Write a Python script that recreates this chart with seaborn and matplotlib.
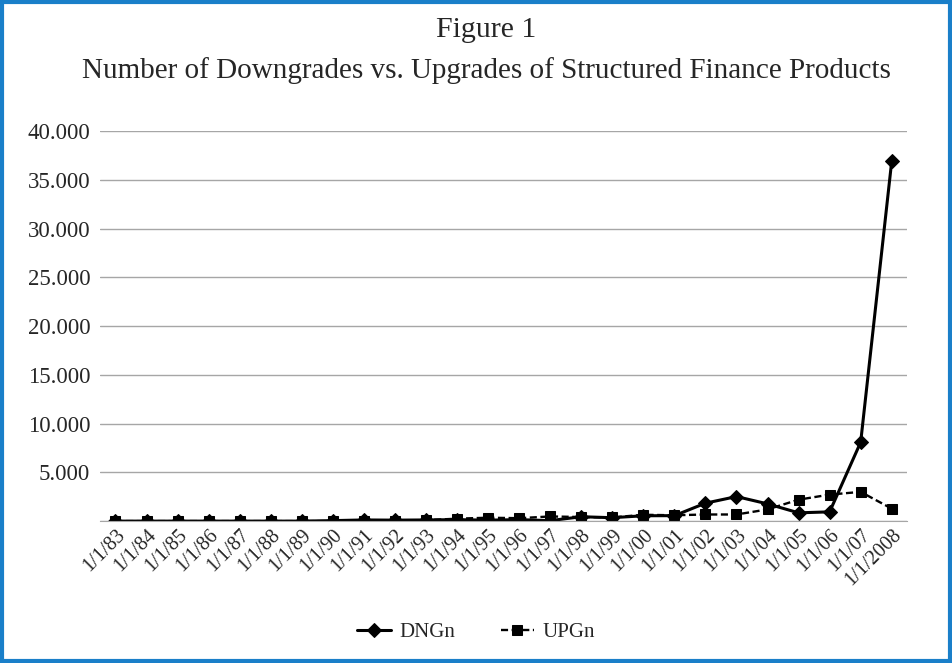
import pandas as pd
import seaborn as sns
import matplotlib.pyplot as plt
from matplotlib.patches import Rectangle
from matplotlib.ticker import FuncFormatter, MultipleLocator

# Werte
dates = ['1/1/83', '1/1/84', '1/1/85', '1/1/86', '1/1/87', '1/1/88', '1/1/89',
         '1/1/90', '1/1/91', '1/1/92', '1/1/93', '1/1/94', '1/1/95', '1/1/96',
         '1/1/97', '1/1/98', '1/1/99', '1/1/00', '1/1/01', '1/1/02', '1/1/03',
         '1/1/04', '1/1/05', '1/1/06', '1/1/07', '1/1/2008']
dngn = [0, 0, 0, 0, 0, 0, 0, 50, 120, 100, 120, 150, 100, 150,
        50, 450, 350, 550, 560, 1840, 2520, 1770, 850, 950, 8100, 36950]
upgn = [0, 0, 0, 0, 0, 0, 0, 0, 20, 50, 100, 250, 350, 300,
        480, 420, 380, 650, 600, 680, 680, 1200, 2200, 2720, 3000, 1280]

df = pd.DataFrame({'Date': dates, 'DNGn': dngn, 'UPGn': upgn})

sns.set_style('white')
plt.rcParams['font.family'] = ['Liberation Serif', 'DejaVu Serif']

fig = plt.figure(figsize=(9.52, 6.63), dpi=100)
ax = fig.add_axes([0.105, 0.214, 0.848, 0.588])

sns.lineplot(data=df, x='Date', y='DNGn', ax=ax, color='black', linewidth=2.2,
             marker='D', markersize=7, markeredgecolor='black', label='DNGn', sort=False)
sns.lineplot(data=df, x='Date', y='UPGn', ax=ax, color='black', linewidth=1.7,
             linestyle=(0, (3, 1.5)), marker='s', markersize=7,
             markeredgecolor='black', label='UPGn', sort=False)

ax.set_xlim(-0.5, len(dates) - 0.5)
ax.set_ylim(0, 40000)
ax.yaxis.set_major_locator(MultipleLocator(5000))
ax.yaxis.set_major_formatter(FuncFormatter(
    lambda v, p: '' if v == 0 else f'{int(v):,}'.replace(',', '.')))
ax.grid(axis='y', color='#a6a6a6', linewidth=1)
ax.set_axisbelow(True)
for s in ['top', 'right', 'left']:
    ax.spines[s].set_visible(False)
ax.spines['bottom'].set_color('#a6a6a6')
ax.tick_params(axis='y', length=0, labelsize=16.5, pad=7)
ax.tick_params(axis='x', length=0, labelsize=14.5, pad=3)
plt.setp(ax.get_xticklabels(), rotation=45, ha='right', rotation_mode='anchor')
ax.set_xlabel('')
ax.set_ylabel('')

fig.text(0.511, 0.955, 'Figure 1', ha='center', va='center', fontsize=21.5)
fig.text(0.511, 0.893, 'Number of Downgrades vs. Upgrades of Structured Finance Products',
         ha='center', va='center', fontsize=21)

ax.legend(loc='center', bbox_to_anchor=(0.5, 0.046), bbox_transform=fig.transFigure,
          ncol=2, frameon=False, fontsize=15, handlelength=1.6, handletextpad=0.4,
          columnspacing=2.2)

fig.patches.append(Rectangle((0.002, 0.003), 0.996, 0.994, transform=fig.transFigure,
                             fill=False, edgecolor='#1a7fc9', linewidth=3))

fig.savefig('out.png', dpi=100)
